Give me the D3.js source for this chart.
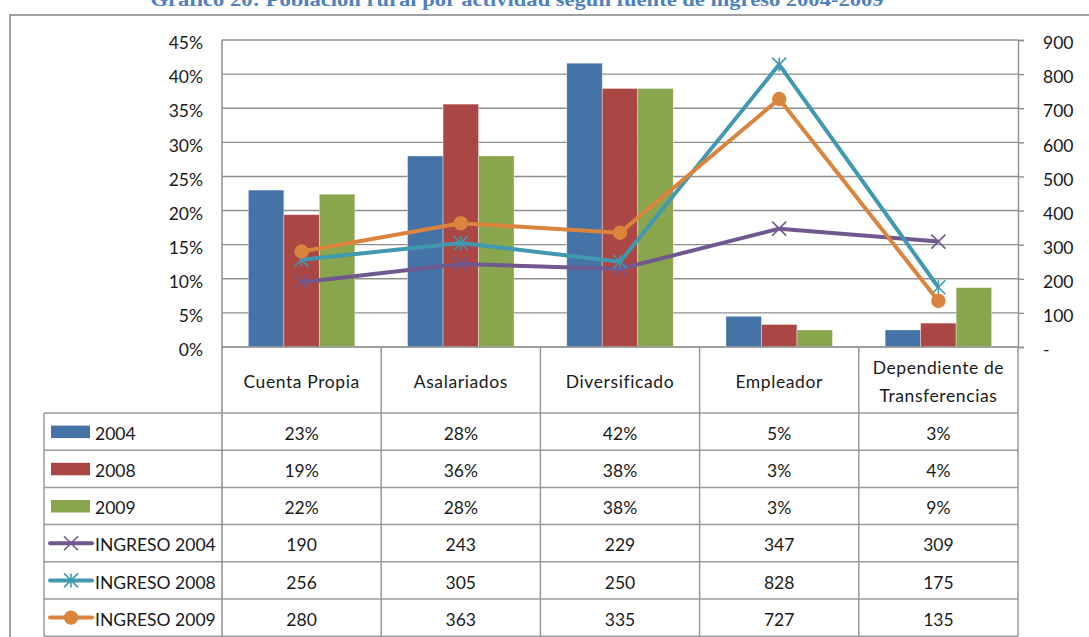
<!DOCTYPE html>
<html>
<head>
<meta charset="utf-8">
<script src="https://cdn.jsdelivr.net/npm/d3@7"></script>
<style>
  html, body { margin: 0; padding: 0; background: #fff; }
  svg { display: block; }
  text { font-family: Lato, "Noto Sans", sans-serif; fill: #1a1a1a; }
</style>
</head>
<body>
<svg id="chart" width="1089" height="637"></svg>
<script>
// ---------- DATA ----------
const title = "Gráfico 20: Población rural por actividad según fuente de ingreso 2004-2009";
const categories = ["Cuenta Propia", "Asalariados", "Diversificado", "Empleador", "Dependiente de\nTransferencias"];
const barSeriesNames = ["2004", "2008", "2009"];
const bars2004 = [0.230, 0.280, 0.416, 0.045, 0.025];
const bars2008 = [0.194, 0.356, 0.379, 0.033, 0.035];
const bars2009 = [0.224, 0.280, 0.379, 0.025, 0.087];
const lineSeriesNames = ["INGRESO 2004", "INGRESO 2008", "INGRESO 2009"];
const ingreso2004 = [190, 243, 229, 347, 309];
const ingreso2008 = [256, 305, 250, 828, 175];
const ingreso2009 = [280, 363, 335, 727, 135];
const leftTicks = [0, 0.05, 0.10, 0.15, 0.20, 0.25, 0.30, 0.35, 0.40, 0.45];
const rightTicks = [0, 100, 200, 300, 400, 500, 600, 700, 800, 900];

// ---------- STYLE / LAYOUT ----------
const barColors = ["#4572a7", "#aa4643", "#89a54e"];
const lineColors = ["#71588f", "#4198af", "#db843d"];
const markerTypes = ["x", "star", "circle"];
const gridColor = "#8f8f8f";
const tableColor = "#9a9a9a";
const plotL = 222, plotR = 1018, plotT = 40, plotB = 347;
const tableL = 44, headerB = 413, rowH = 37.2;
const fontSize = 17.5;

const svg = d3.select("#chart");

// outer frame (extends beyond picture)
svg.append("rect").attr("x", 10).attr("y", 15).attr("width", 1200).attr("height", 800)
  .attr("fill", "none").attr("stroke", "#8a8a8a").attr("stroke-width", 1.6);

// title (partly clipped at top, as in the source)
svg.append("text").attr("x", 517).attr("y", 6).attr("text-anchor", "middle")
  .attr("textLength", 733).attr("lengthAdjust", "spacingAndGlyphs")
  .style("font-family", "'Liberation Serif', 'DejaVu Serif', serif")
  .style("font-weight", "bold").style("font-size", "19px").style("fill", "#4f81bd")
  .text(title);

// scales
const x = d3.scaleBand().domain(categories).range([plotL, plotR]).paddingInner(0).paddingOuter(0);
const bw = x.bandwidth();
const xs = d3.scaleBand().domain(barSeriesNames).range([bw * 0.1655, bw * 0.8345]).padding(0);
const yL = d3.scaleLinear().domain([0, 0.45]).range([plotB, plotT]);
const yR = d3.scaleLinear().domain([0, 900]).range([plotB, plotT]);

// gridlines
svg.append("g").selectAll("line").data(leftTicks).join("line")
  .attr("x1", plotL).attr("x2", plotR)
  .attr("y1", d => yL(d)).attr("y2", d => yL(d))
  .attr("stroke", gridColor).attr("stroke-width", 1.4);

// left axis
const axL = svg.append("g").attr("transform", `translate(${plotL},0)`)
  .call(d3.axisLeft(yL).tickValues(leftTicks).tickFormat(d3.format(".0%")).tickSize(0).tickPadding(19));
axL.select(".domain").remove();
axL.selectAll("text").style("font-size", fontSize + "px").style("font-family", "Lato, sans-serif")
  .attr("fill", "#1a1a1a").attr("dy", "0.5em");

// right axis
const axR = svg.append("g").attr("transform", `translate(${plotR},0)`)
  .call(d3.axisRight(yR).tickValues(rightTicks).tickFormat(d => d === 0 ? "-" : d).tickSize(6).tickPadding(19));
axR.select(".domain").attr("stroke", gridColor).attr("stroke-width", 1.4);
axR.selectAll(".tick line").attr("stroke", gridColor).attr("stroke-width", 1.4);
axR.selectAll("text").style("font-size", fontSize + "px").style("font-family", "Lato, sans-serif")
  .attr("fill", "#1a1a1a").attr("dy", "0.5em");

// bars
const barData = [bars2004, bars2008, bars2009];
barData.forEach((vals, si) => {
  svg.append("g").selectAll("rect").data(vals).join("rect")
    .attr("x", (d, i) => x(categories[i]) + xs(barSeriesNames[si]))
    .attr("width", xs.bandwidth())
    .attr("y", d => yL(d))
    .attr("height", d => plotB - yL(d))
    .attr("fill", barColors[si])
    .attr("stroke", "#ffffff").attr("stroke-opacity", 0.45).attr("stroke-width", 0.8);
});

// markers
function drawMarker(g, type, cx, cy, color) {
  const s = 7;
  if (type === "circle") {
    g.append("circle").attr("cx", cx).attr("cy", cy).attr("r", 7.2).attr("fill", color);
  } else {
    g.append("line").attr("x1", cx - s).attr("y1", cy - s).attr("x2", cx + s).attr("y2", cy + s)
      .attr("stroke", color).attr("stroke-width", 1.6);
    g.append("line").attr("x1", cx - s).attr("y1", cy + s).attr("x2", cx + s).attr("y2", cy - s)
      .attr("stroke", color).attr("stroke-width", 1.6);
    if (type === "star") {
      g.append("line").attr("x1", cx).attr("y1", cy - s).attr("x2", cx).attr("y2", cy + s)
        .attr("stroke", color).attr("stroke-width", 1.6);
    }
  }
}

// lines
const lineData = [ingreso2004, ingreso2008, ingreso2009];
const cx = i => x(categories[i]) + bw / 2;
const lineGen = d3.line().x((d, i) => cx(i)).y(d => yR(d));
lineData.forEach((vals, si) => {
  const g = svg.append("g");
  g.append("path").attr("d", lineGen(vals)).attr("fill", "none")
    .attr("stroke", lineColors[si]).attr("stroke-width", 4).attr("stroke-linejoin", "round");
  vals.forEach((v, i) => drawMarker(g, markerTypes[si], cx(i), yR(v), lineColors[si]));
});

// ---------- DATA TABLE ----------
const tg = svg.append("g");
const nRows = 6;
const tableB = headerB + rowH * nRows;
// horizontal lines
tg.append("line").attr("x1", plotL).attr("x2", plotR).attr("y1", plotB).attr("y2", plotB)
  .attr("stroke", tableColor).attr("stroke-width", 1.5);
d3.range(nRows + 1).forEach(r => {
  const yy = headerB + r * rowH;
  tg.append("line").attr("x1", tableL).attr("x2", plotR).attr("y1", yy).attr("y2", yy)
    .attr("stroke", tableColor).attr("stroke-width", 1.5);
});
// vertical lines
tg.append("line").attr("x1", tableL).attr("x2", tableL).attr("y1", headerB).attr("y2", tableB)
  .attr("stroke", tableColor).attr("stroke-width", 1.5);
categories.forEach((c, i) => {
  tg.append("line").attr("x1", x(c)).attr("x2", x(c)).attr("y1", i === 0 ? plotT : plotB).attr("y2", tableB)
    .attr("stroke", i === 0 ? gridColor : tableColor).attr("stroke-width", 1.5);
});
tg.append("line").attr("x1", plotR).attr("x2", plotR).attr("y1", plotB).attr("y2", tableB)
  .attr("stroke", tableColor).attr("stroke-width", 1.5);

// header text
categories.forEach((c, i) => {
  const lines = c.split("\n");
  const mid = (plotB + headerB) / 2 + 2;
  const t = tg.append("text").attr("text-anchor", "middle").style("font-size", fontSize + "px")
    .style("letter-spacing", "0.6px");
  lines.forEach((ln, k) => {
    t.append("tspan").attr("x", cx(i))
      .attr("y", mid + (k - (lines.length - 1) / 2) * 28)
      .attr("dy", "0.35em").text(ln);
  });
});

// rows
const rows = [
  ...barData.map((vals, si) => ({ name: barSeriesNames[si], kind: "bar", color: barColors[si], labels: vals.map(v => Math.round(v * 100) + "%") })),
  ...lineData.map((vals, si) => ({ name: lineSeriesNames[si], kind: markerTypes[si], color: lineColors[si], labels: vals.map(v => String(v)) }))
];
rows.forEach((row, r) => {
  const ym = headerB + r * rowH + rowH / 2 + 2;
  if (row.kind === "bar") {
    tg.append("rect").attr("x", 51).attr("y", ym - 8).attr("width", 39).attr("height", 12.5).attr("fill", row.color);
  } else {
    tg.append("line").attr("x1", 50).attr("x2", 92).attr("y1", ym - 2).attr("y2", ym - 2)
      .attr("stroke", row.color).attr("stroke-width", 4).attr("stroke-linecap", "round");
    drawMarker(tg, row.kind, 71, ym - 2, row.color);
  }
  tg.append("text").attr("x", 95).attr("y", ym).attr("dy", "0.35em").style("font-size", fontSize + "px").text(row.name);
  row.labels.forEach((lab, i) => {
    tg.append("text").attr("x", cx(i)).attr("y", ym).attr("dy", "0.35em").attr("text-anchor", "middle")
      .style("font-size", fontSize + "px").text(lab);
  });
});
</script>
</body>
</html>
